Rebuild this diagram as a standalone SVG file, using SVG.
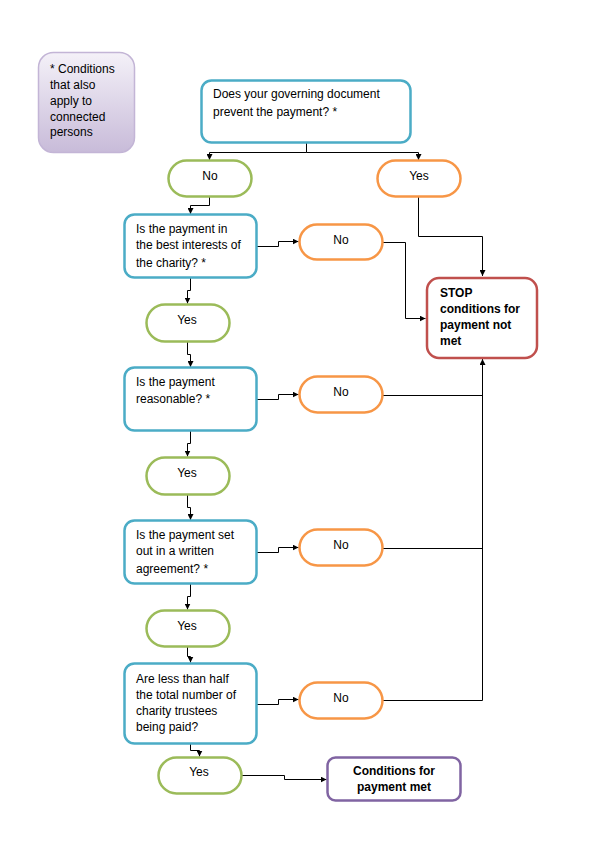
<svg xmlns="http://www.w3.org/2000/svg" width="597" height="842" viewBox="0 0 597 842">
<defs>
  <linearGradient id="noteGrad" x1="0" y1="0" x2="0" y2="1">
    <stop offset="0" stop-color="#f4f1f8"/>
    <stop offset="1" stop-color="#c8bbd9"/>
  </linearGradient>
  <marker id="arr" viewBox="0 0 10 10" refX="10" refY="5" markerWidth="6" markerHeight="6" markerUnits="userSpaceOnUse" orient="auto">
    <path d="M0,0 L10,5 L0,10 z" fill="#000"/>
  </marker>
  <style>
    text { font-family: "Liberation Sans", Arial, sans-serif; font-size: 12px; fill: #000; }
    .b { font-weight: bold; }
    .c { text-anchor: middle; }
    .q { fill: #fff; stroke: #4BACC6; stroke-width: 2.5; }
    .g { fill: #fff; stroke: #9BBB59; stroke-width: 2.5; }
    .o { fill: #fff; stroke: #F79646; stroke-width: 2.5; }
    .r { fill: #fff; stroke: #C0504D; stroke-width: 2.5; }
    .p { fill: #fff; stroke: #8064A2; stroke-width: 2.5; }
    .note { fill: url(#noteGrad); stroke: #c3b5d6; stroke-width: 1.5; }
    .ln { fill: none; stroke: #000; stroke-width: 1; }
    .la { fill: none; stroke: #000; stroke-width: 1; marker-end: url(#arr); }
  </style>
</defs>
<rect width="597" height="842" fill="#fff"/>

<g id="connectors">
  <path class="ln" d="M306.5,143 V152.5 H209.5"/>
  <path class="la" d="M209.5,152.5 V160"/>
  <path class="la" d="M306.5,152.5 H418.5 V160"/>
  <path class="la" d="M209.5,197 V205.5 H190.5 V214"/>
  <path class="la" d="M418.5,197 V236.5 H482.5 V276"/>
  <path class="la" d="M257,246.5 H278.5 V241.5 H298.5"/>
  <path class="la" d="M383,242.5 H405.5 V318.5 H425.5"/>
  <path class="la" d="M190.5,278 V290.5 H187.5 V303.5"/>
  <path class="la" d="M187.5,341.5 V354.5 H190.5 V367"/>
  <path class="la" d="M257,399.5 H278.5 V394.5 H298.5"/>
  <path class="ln" d="M383,395.5 H482.5"/>
  <path class="la" d="M190.5,431 V443.5 H187.5 V456.5"/>
  <path class="la" d="M187.5,494.5 V507.5 H190.5 V520"/>
  <path class="la" d="M257,552.5 H278.5 V547.5 H298.5"/>
  <path class="ln" d="M383,548.5 H482.5"/>
  <path class="la" d="M190.5,584 V596.5 H187.5 V609.5"/>
  <path class="la" d="M187.5,647 V656.5 H190.5 V662.5"/>
  <path class="la" d="M257,704.5 H278.5 V699.5 H298.5"/>
  <path class="la" d="M383,700.5 H482.5 V359"/>
  <path class="la" d="M190.5,744 V750.5 H199.5 V756.5"/>
  <path class="la" d="M242,775.5 H284.5 V779.5 H326.5"/>
</g>

<g id="note">
  <rect class="note" x="38.5" y="52.5" width="96" height="100" rx="15"/>
  <text x="50" y="73">* Conditions</text>
  <text x="50" y="89">that also</text>
  <text x="50" y="105">apply to</text>
  <text x="50" y="121">connected</text>
  <text x="50" y="136">persons</text>
</g>

<g id="q0">
  <rect class="q" x="201.5" y="80.5" width="209" height="62" rx="10"/>
  <text x="213" y="98">Does your governing document</text>
  <text x="213" y="116">prevent the payment? *</text>
</g>

<g id="no0">
  <rect class="g" x="168.5" y="160.5" width="83" height="36" rx="18"/>
  <text class="c" x="210" y="180">No</text>
</g>

<g id="yes0">
  <rect class="o" x="377.5" y="160.5" width="83" height="36" rx="18"/>
  <text class="c" x="419" y="180">Yes</text>
</g>

<g id="q1">
  <rect class="q" x="124.5" y="214.5" width="132" height="63" rx="10"/>
  <text x="136" y="233">Is the payment in</text>
  <text x="136" y="249">the best interests of</text>
  <text x="136" y="267">the charity? *</text>
</g>

<g id="no1">
  <rect class="o" x="299.5" y="224.5" width="83" height="35" rx="17.5"/>
  <text class="c" x="341" y="244">No</text>
</g>

<g id="stop">
  <rect class="r" x="427" y="278" width="110" height="80" rx="12"/>
  <text class="b" x="440" y="297">STOP</text>
  <text class="b" x="440" y="313">conditions for</text>
  <text class="b" x="440" y="329">payment not</text>
  <text class="b" x="440" y="345">met</text>
</g>

<g id="yes1">
  <rect class="g" x="146.5" y="304.5" width="83" height="37" rx="18.5"/>
  <text class="c" x="187" y="324">Yes</text>
</g>

<g id="q2">
  <rect class="q" x="124.5" y="367.5" width="132" height="63" rx="10"/>
  <text x="136" y="386">Is the payment</text>
  <text x="136" y="403">reasonable? *</text>
</g>

<g id="no2">
  <rect class="o" x="299.5" y="376.5" width="83" height="36" rx="18"/>
  <text class="c" x="341" y="396">No</text>
</g>

<g id="yes2">
  <rect class="g" x="146.5" y="457.5" width="83" height="37" rx="18.5"/>
  <text class="c" x="187" y="477">Yes</text>
</g>

<g id="q3">
  <rect class="q" x="124.5" y="520.5" width="132" height="63" rx="10"/>
  <text x="136" y="539">Is the payment set</text>
  <text x="136" y="555">out in a written</text>
  <text x="136" y="573">agreement? *</text>
</g>

<g id="no3">
  <rect class="o" x="299.5" y="529.5" width="83" height="36" rx="18"/>
  <text class="c" x="341" y="549">No</text>
</g>

<g id="yes3">
  <rect class="g" x="146.5" y="610.5" width="83" height="36" rx="18"/>
  <text class="c" x="187" y="630">Yes</text>
</g>

<g id="q4">
  <rect class="q" x="124.5" y="663.5" width="132" height="80" rx="10"/>
  <text x="136" y="683">Are less than half</text>
  <text x="136" y="699">the total number of</text>
  <text x="136" y="715">charity trustees</text>
  <text x="136" y="731">being paid?</text>
</g>

<g id="no4">
  <rect class="o" x="299.5" y="682.5" width="83" height="36" rx="18"/>
  <text class="c" x="341" y="702">No</text>
</g>

<g id="yes4">
  <rect class="g" x="158.5" y="757.5" width="83" height="36" rx="18"/>
  <text class="c" x="199" y="776">Yes</text>
</g>

<g id="met">
  <rect class="p" x="327.5" y="757.5" width="133" height="43" rx="8"/>
  <text class="b c" x="394" y="775">Conditions for</text>
  <text class="b c" x="394" y="791">payment met</text>
</g>
</svg>
